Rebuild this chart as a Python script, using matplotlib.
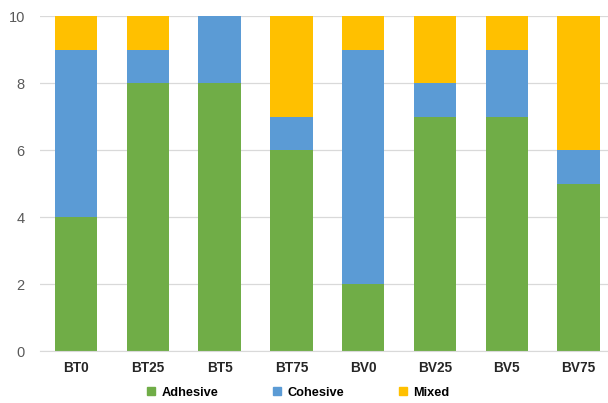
import matplotlib
matplotlib.use("Agg")
import matplotlib.pyplot as plt
from matplotlib.lines import Line2D

categories = ["BT0", "BT25", "BT5", "BT75", "BV0", "BV25", "BV5", "BV75"]
adhesive = [4, 8, 8, 6, 2, 7, 7, 5]
cohesive = [5, 1, 2, 1, 7, 1, 2, 1]
mixed = [1, 1, 0, 3, 1, 2, 1, 4]

series = [("Adhesive", adhesive, "#70AD47"),
          ("Cohesive", cohesive, "#5B9BD5"),
          ("Mixed", mixed, "#FFC000")]

sans = ["Liberation Sans", "DejaVu Sans"]

fig = plt.figure(figsize=(6.08, 4.03), dpi=100)
ax = fig.add_axes([0.066, 0.129, 0.934, 0.831])

x = range(len(categories))
bottom = [0] * len(categories)
for name, vals, color in series:
    ax.bar(x, vals, width=0.59, bottom=bottom, color=color, zorder=2)
    bottom = [b + v for b, v in zip(bottom, vals)]

ax.set_xlim(-0.5, 7.41)
ax.set_ylim(0, 10)
ax.set_yticks(range(0, 11, 2))
ax.set_xticks(list(x))
ax.set_xticklabels(categories, fontweight="bold", fontsize=9.8,
                   family=sans, color="#262626")
ax.set_yticklabels([str(v) for v in range(0, 11, 2)],
                   family=sans, fontsize=10.5, color="#595959")
ax.tick_params(axis="y", length=0, pad=11)
ax.tick_params(axis="x", length=0, pad=7)
ax.grid(axis="y", color="#D9D9D9", linewidth=0.9, zorder=0)
for side in ["top", "right", "left"]:
    ax.spines[side].set_visible(False)
ax.spines["bottom"].set_color("#D9D9D9")

handles = [Line2D([], [], marker="s", linestyle="", markersize=5.5,
                  markerfacecolor=c, markeredgecolor=c) for _, _, c in series]
fig.legend(handles, [n for n, _, _ in series], loc="center",
           bbox_to_anchor=(0.49, 0.025), ncol=3, frameon=False,
           prop={"family": sans, "weight": "bold", "size": 9.2},
           handlelength=0.8, handletextpad=0.4, columnspacing=4.2)

fig.savefig("out.png", dpi=100)
